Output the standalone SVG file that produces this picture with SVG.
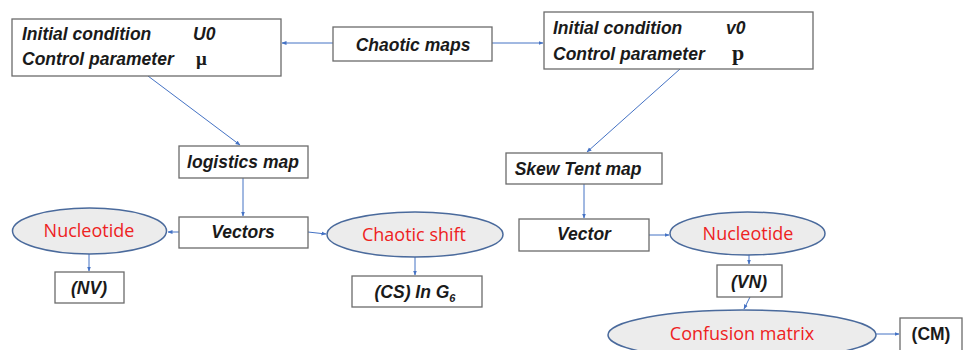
<svg xmlns="http://www.w3.org/2000/svg" width="967" height="350" viewBox="0 0 967 350">
<defs>
<marker id="ah" viewBox="0 0 10 10" refX="9" refY="5" markerWidth="5" markerHeight="5" orient="auto-start-reverse" markerUnits="userSpaceOnUse">
<path d="M0,1 L10,5 L0,9 z" fill="#4472c4"/>
</marker>
<style>
.box{fill:#fff;stroke:#6b6b6b;stroke-width:1.3}
.ell{fill:#ececec;stroke:#4a6a9c;stroke-width:1.5}
.t{font-family:"Liberation Sans",Arial,sans-serif;font-weight:bold;font-style:italic;font-size:17.5px;fill:#1a1a1a}
.r{font-family:"Open Sans","Liberation Sans",sans-serif;font-size:18px;fill:#ee2222;text-anchor:middle}
.c{text-anchor:middle}
.up{font-style:normal}
.ln{stroke:#4472c4;stroke-width:1;fill:none;marker-end:url(#ah)}
</style>
</defs>
<rect width="967" height="350" fill="#fff"/>
<g id="connectors">
<line class="ln" x1="333" y1="43" x2="282" y2="43"/>
<line class="ln" x1="492" y1="43" x2="543" y2="43"/>
<line class="ln" x1="148" y1="76" x2="240" y2="145"/>
<line class="ln" x1="680" y1="69" x2="587" y2="152"/>
<line class="ln" x1="243" y1="178" x2="243" y2="216"/>
<line class="ln" x1="179" y1="232" x2="168" y2="232"/>
<line class="ln" x1="308" y1="232" x2="326" y2="234"/>
<line class="ln" x1="89" y1="254" x2="89" y2="271"/>
<line class="ln" x1="415" y1="257" x2="415" y2="275"/>
<line class="ln" x1="584" y1="184" x2="584" y2="218"/>
<line class="ln" x1="649" y1="235" x2="669" y2="235"/>
<line class="ln" x1="749" y1="255" x2="749" y2="264"/>
<line class="ln" x1="750" y1="297" x2="744" y2="309"/>
<line class="ln" x1="876" y1="334" x2="899" y2="334"/>
</g>
<g id="box1">
<rect class="box" x="12" y="19" width="269" height="57"/>
<text class="t" x="22" y="40">Initial condition</text>
<text class="t" x="193" y="40">U0</text>
<text class="t" x="22" y="65">Control parameter</text>
<text x="196" y="65" font-family="Liberation Serif,serif" font-weight="bold" font-size="19" fill="#1a1a1a">μ</text>
</g>
<g id="chaotic-maps">
<rect class="box" x="333" y="27" width="159" height="34"/>
<text class="t c" x="413" y="51" font-size="20.5">Chaotic maps</text>
</g>
<g id="box2">
<rect class="box" x="544" y="12" width="269" height="57"/>
<text class="t" x="553" y="34">Initial condition</text>
<text class="t" x="726" y="34">v0</text>
<text class="t" x="553" y="60">Control parameter</text>
<text x="732" y="60" font-family="Liberation Serif,serif" font-weight="bold" font-size="22" fill="#1a1a1a">p</text>
</g>
<g id="logistics-map">
<rect class="box" x="179" y="146" width="129" height="32"/>
<text class="t c" x="243" y="168">logistics map</text>
</g>
<g id="skew-tent-map">
<rect class="box" x="506" y="153" width="156" height="31"/>
<text class="t c" x="578" y="175">Skew Tent map</text>
</g>
<g id="vectors">
<rect class="box" x="179" y="217" width="129" height="31"/>
<text class="t c" x="243" y="238" font-size="17">Vectors</text>
</g>
<g id="nucleotide-left">
<ellipse class="ell" cx="89.5" cy="231" rx="77" ry="23"/>
<text class="r" x="89" y="237">Nucleotide</text>
</g>
<g id="chaotic-shift">
<ellipse class="ell" cx="415" cy="234.5" rx="88" ry="22.5"/>
<text class="r" x="414" y="241">Chaotic shift</text>
</g>
<g id="nv">
<rect class="box" x="55" y="272" width="69" height="31"/>
<text class="t c" x="89" y="294">(NV)</text>
</g>
<g id="cs">
<rect class="box" x="352" y="276" width="130" height="31"/>
<text class="t c" x="415" y="298" font-size="17">(CS) In G<tspan font-size="11" dy="4">6</tspan></text>
</g>
<g id="vector">
<rect class="box" x="519" y="219" width="130" height="32"/>
<text class="t c" x="584" y="240">Vector</text>
</g>
<g id="nucleotide-right">
<ellipse class="ell" cx="747.5" cy="233.5" rx="77.5" ry="21.5"/>
<text class="r" x="748" y="240">Nucleotide</text>
</g>
<g id="vn">
<rect class="box" x="717" y="265" width="65" height="32"/>
<text class="t c" x="749" y="288">(VN)</text>
</g>
<g id="confusion-matrix">
<ellipse class="ell" cx="742" cy="335" rx="134" ry="25"/>
<text class="r" x="742" y="340">Confusion matrix</text>
</g>
<g id="cm">
<rect class="box" x="900" y="318" width="62" height="36"/>
<text class="t c up" x="931" y="340">(CM)</text>
</g>
</svg>
